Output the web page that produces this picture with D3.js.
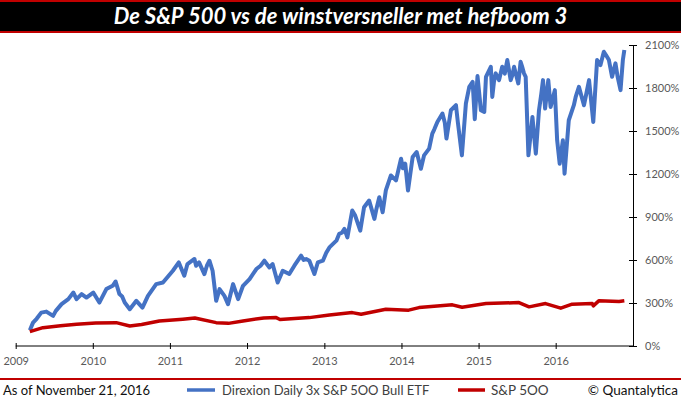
<!DOCTYPE html>
<html>
<head>
<meta charset="utf-8">
<script src="https://cdn.jsdelivr.net/npm/d3@7"></script>
<style>
  body { margin:0; background:#fff; }
  svg { display:block; }
</style>
</head>
<body>
<svg id="chart" width="681" height="399"></svg>
<script>
// tick labels
var yTicks = [0, 300, 600, 900, 1200, 1500, 1800, 2100];
var xTickYears = [2009, 2010, 2011, 2012, 2013, 2014, 2015, 2016];

// Direxion Daily 3x S&P 500 Bull ETF, cumulative %
var bullDates = ["2009-03-09","2009-03-24","2009-05-02","2009-05-26","2009-06-27","2009-08-06","2009-09-07","2009-10-01","2009-10-16","2009-11-09","2009-12-02",
  "2010-01-03","2010-02-01","2010-03-06","2010-04-19","2010-05-07","2010-06-01","2010-06-25","2010-07-26","2010-08-24","2010-09-19","2010-10-28","2010-11-29",
  "2011-01-15","2011-02-12","2011-03-10","2011-03-25","2011-04-27","2011-05-19","2011-06-13","2011-07-07","2011-07-22","2011-08-08","2011-08-24","2011-09-16","2011-10-03","2011-10-27","2011-11-20","2011-12-13",
  "2012-01-13","2012-02-14","2012-03-23","2012-04-16","2012-05-01","2012-05-25","2012-06-18","2012-07-19","2012-08-12","2012-09-13","2012-10-07","2012-10-22","2012-11-15","2012-12-01","2012-12-25",
  "2013-01-25","2013-02-27","2013-03-12","2013-04-06","2013-04-20","2013-05-13","2013-05-27","2013-06-20","2013-07-08","2013-08-01","2013-08-26","2013-09-18","2013-10-04","2013-10-19","2013-11-12","2013-12-06","2013-12-30",
  "2014-01-19","2014-02-01","2014-02-23","2014-03-14","2014-04-03","2014-04-18","2014-05-12","2014-05-27","2014-06-20","2014-07-14","2014-08-02","2014-08-23","2014-09-16","2014-10-14","2014-11-02","2014-11-18","2014-12-04","2014-12-14","2014-12-27",
  "2015-01-12","2015-01-28","2015-02-05","2015-02-28","2015-03-07","2015-03-23","2015-04-08","2015-04-23","2015-05-17","2015-06-02","2015-06-18","2015-07-08","2015-07-19","2015-08-04","2015-08-12","2015-08-25","2015-09-13","2015-09-29","2015-10-14","2015-11-02","2015-11-12","2015-11-27","2015-12-08","2015-12-28",
  "2016-01-08","2016-01-20","2016-02-04","2016-02-12","2016-03-03","2016-03-27","2016-04-20","2016-05-14","2016-06-07","2016-06-27","2016-07-15","2016-07-31","2016-08-16","2016-09-09","2016-09-24","2016-10-10","2016-11-03","2016-11-14","2016-11-21"];
var bullValues = [110,163,233,240,210,292,327,373,327,362,338,
  373,303,397,450,362,303,257,315,268,350,432,443,
  525,583,490,572,607,583,502,595,525,315,397,350,292,432,327,420,
  467,537,595,548,572,443,525,502,560,630,607,595,502,583,595,
  688,735,782,817,758,945,910,805,968,1015,887,1038,933,1085,1190,1155,1307,
  1272,1085,1318,1353,1237,1330,1377,1482,1563,1622,1447,1645,1680,1330,1692,1808,1843,1582,1883,
  1645,1633,1878,1948,1738,1902,1855,1948,1995,1855,1948,1832,1983,1902,1878,1330,1598,1342,1645,1855,1657,1855,1668,1785,
  1435,1272,1435,1202,1575,1680,1808,1680,1855,1563,1995,1960,2053,1995,1878,1972,1785,1995,2065];
// extra in-between readings of the bull series
var bullDatesExtra = ["2009-04-10","2009-07-10","2010-04-05","2010-05-20","2011-05-05","2011-06-25","2012-03-05","2012-09-25","2013-01-10","2013-03-25","2013-09-05",
  "2014-01-08","2014-06-05","2014-07-25","2014-09-25","2015-03-15","2015-05-05","2015-06-10","2015-07-28","2015-10-25","2016-04-05","2016-05-25","2016-08-26","2016-10-20"];
var bullValuesExtra = [190,245,420,345,560,560,560,600,650,790,960,
  1240,1510,1560,1560,1845,1900,1890,1940,1760,1740,1760,2030,1880];

// S&P 500, cumulative %
var spxDates = ["2009-03-09","2009-05-10","2009-08-01","2009-10-16","2010-01-15","2010-04-22","2010-06-25","2010-08-20","2010-11-12","2011-03-03","2011-04-29","2011-08-08","2011-10-05","2011-12-13",
  "2012-03-20","2012-05-18","2012-06-05","2012-10-22","2013-01-25","2013-05-13","2013-06-24","2013-10-19","2014-02-04","2014-03-25","2014-08-30","2014-10-15","2015-02-05","2015-07-11",
  "2015-08-28","2015-11-14","2016-01-25","2016-03-19","2016-06-22","2016-06-27","2016-07-23","2016-10-27","2016-11-21"];
var spxValues = [100,128,142,152,160,163,140,150,175,187,195,163,158,175,
  196,198,185,198,217,233,222,257,250,268,287,270,296,303,
  273,296,264,292,296,280,315,310,315];

var parseDate = d3.timeParse("%Y-%m-%d");
var toPoints = function(dates, values){
  return dates.map(function(d, i){ return {date: parseDate(d), value: values[i]}; });
};
var bull = toPoints(bullDates, bullValues).concat(toPoints(bullDatesExtra, bullValuesExtra))
  .sort(function(a, b){ return a.date - b.date; });
var spx = toPoints(spxDates, spxValues);

var svg = d3.select("#chart");
var width = 681, height = 399;
var red = "#C00000", blue = "#4472C4";
var plotLeft = 15.7, plotRight = 633, plotTop = 45, plotBottom = 346;
var font = "Lato, 'Open Sans', sans-serif";

// title bar
svg.append("rect").attr("x", 0).attr("y", 0).attr("width", width).attr("height", 33).attr("fill", red);
svg.append("rect").attr("x", 0).attr("y", 2).attr("width", width).attr("height", 29).attr("fill", "#000");
svg.append("text")
  .attr("x", width/2)
  .attr("y", 24)
  .attr("text-anchor", "middle")
  .attr("fill", "#fff")
  .style("font-family", font)
  .style("font-weight", "bold")
  .style("font-style", "italic")
  .style("font-size", "22px")
  .text("De S&P 500 vs de winstversneller met hefboom 3");

var x = d3.scaleTime()
  .domain([new Date(2009, 0, 1), new Date(2017, 0, 1)])
  .range([plotLeft, plotRight]);
var y = d3.scaleLinear()
  .domain([0, 2100])
  .range([plotBottom, plotTop]);

var line = d3.line()
  .x(function(d){ return x(d.date); })
  .y(function(d){ return y(d.value); });

svg.append("path").datum(bull)
  .attr("d", line)
  .attr("fill", "none")
  .attr("stroke", blue)
  .attr("stroke-width", 4)
  .attr("stroke-linejoin", "round");

svg.append("path").datum(spx)
  .attr("d", line)
  .attr("fill", "none")
  .attr("stroke", red)
  .attr("stroke-width", 3.5)
  .attr("stroke-linejoin", "round");

// x axis
var xAxis = svg.append("g")
  .attr("transform", "translate(0," + plotBottom + ")")
  .call(d3.axisBottom(x)
    .tickValues(xTickYears.map(function(yr){ return new Date(yr, 0, 1); }))
    .tickFormat(d3.timeFormat("%Y"))
    .tickSizeOuter(0)
    .tickSizeInner(3)
    .tickPadding(8));
xAxis.selectAll(".tick line").attr("y1", -3).attr("y2", 3);
xAxis.select(".domain").attr("d", "M" + plotLeft + ",0H" + plotRight);
xAxis.selectAll("text")
  .attr("fill", "#595959")
  .style("font-family", font)
  .style("font-size", "11px");

// y axis on the right
var yAxis = svg.append("g")
  .attr("transform", "translate(" + plotRight + ",0)")
  .call(d3.axisRight(y)
    .tickValues(yTicks)
    .tickFormat(function(d){ return d + "%"; })
    .tickSizeOuter(0)
    .tickSizeInner(4)
    .tickPadding(8));
yAxis.selectAll(".tick line").attr("x1", -4).attr("x2", 4);
yAxis.selectAll("text")
  .attr("fill", "#595959")
  .style("font-family", font)
  .style("font-size", "11px");

// footer
svg.append("rect").attr("x", 0).attr("y", 378).attr("width", width).attr("height", 2).attr("fill", red);

svg.append("text")
  .attr("x", 3).attr("y", 395)
  .style("font-family", font).style("font-size", "13px")
  .attr("fill", "#111")
  .text("As of November 21, 2016");

svg.append("line").attr("x1", 187).attr("x2", 215).attr("y1", 390).attr("y2", 390)
  .attr("stroke", blue).attr("stroke-width", 3.5);
svg.append("text")
  .attr("x", 222).attr("y", 395)
  .style("font-family", font).style("font-size", "13px")
  .attr("fill", "#404040")
  .text("Direxion Daily 3x S&P 5OO Bull ETF");

svg.append("line").attr("x1", 458).attr("x2", 485).attr("y1", 390).attr("y2", 390)
  .attr("stroke", red).attr("stroke-width", 3.5);
svg.append("text")
  .attr("x", 491).attr("y", 395)
  .style("font-family", font).style("font-size", "13.5px")
  .attr("fill", "#404040")
  .text("S&P 5OO");

svg.append("text")
  .attr("x", 678).attr("y", 395)
  .attr("text-anchor", "end")
  .style("font-family", font).style("font-size", "13.5px")
  .attr("fill", "#111")
  .text("© Quantalytica");
</script>
</body>
</html>
